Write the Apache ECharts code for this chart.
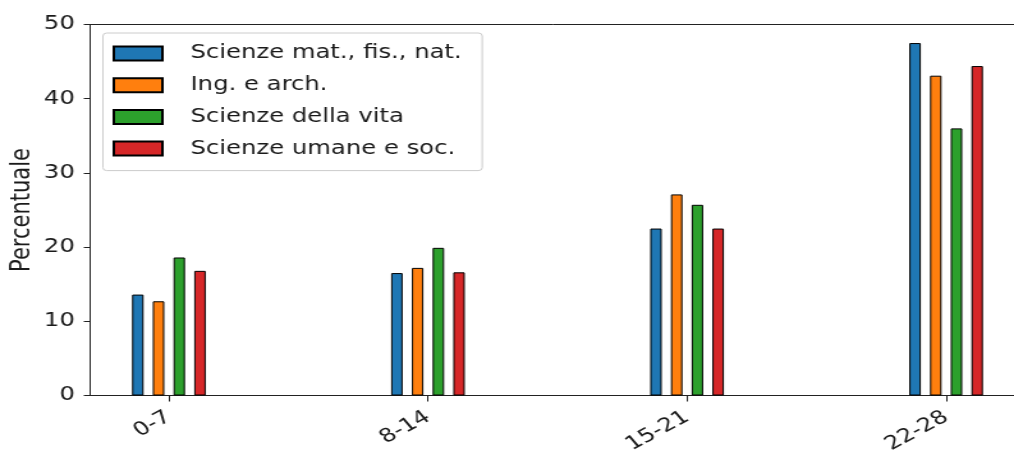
<!DOCTYPE html>
<html>
<head>
<meta charset="utf-8">
<script src="https://cdn.jsdelivr.net/npm/echarts@6/dist/echarts.min.js"></script>
<style>
  html, body { margin: 0; padding: 0; background: #fff; overflow: hidden; }
  /* the figure is laid out at a narrower width and stretched horizontally */
  #wrap { width: 1014px; height: 455px; overflow: hidden; }
  #chart { width: 793px; height: 455px; transform: scaleX(1.2787); transform-origin: 0 0; }
</style>
</head>
<body>
<div id="wrap"><div id="chart"></div></div>
<script>
// Age bands (days) on the x axis
const categories = ['0-7', '8-14', '15-21', '22-28'];

// Share of each subject area per band, in percent
const seriesNames = [
  'Scienze mat., fis., nat.',
  'Ing. e arch.',
  'Scienze della vita',
  'Scienze umane e soc.'
];
const matFisNat   = [13.6, 16.5, 22.5, 47.5];
const ingArch     = [12.7, 17.2, 27.1, 43.1];
const scienzeVita = [18.6, 19.9, 25.7, 36.0];
const umaneSoc    = [16.8, 16.6, 22.5, 44.4];

const yTicks = [0, 10, 20, 30, 40, 50];

const palette = ['#1f77b4', '#ff7f0e', '#2ca02c', '#d62728'];
const valueSets = [matFisNat, ingArch, scienzeVita, umaneSoc];
const font = 'DejaVu Sans';
const ink = '#1a1a1a';

const chart = echarts.init(document.getElementById('chart'), null, { renderer: 'canvas' });

const series = seriesNames.map((name, i) => ({
  name: name,
  type: 'bar',
  data: valueSets[i].map((v, k) => [k, v]),
  barWidth: 9,
  barGap: '80%',
  itemStyle: { color: palette[i], borderColor: '#000', borderWidth: 1 },
  emphasis: { disabled: true }
}));

chart.setOption({
  animation: false,
  backgroundColor: '#fff',
  grid: {
    left: 70.5, top: 24.5, width: 731, height: 371,
    outerBoundsMode: 'none',
    containLabel: false,
    show: true, borderColor: '#222', borderWidth: 1, backgroundColor: 'transparent'
  },
  legend: {
    left: 80.5, top: 33,
    orient: 'vertical',
    icon: 'rect',
    itemWidth: 38, itemHeight: 14,
    itemGap: 11.7,
    padding: [10.5, 16, 12, 7.5],
    backgroundColor: 'rgba(255,255,255,0.8)',
    borderColor: '#cccccc', borderWidth: 1, borderRadius: 3,
    textStyle: { fontFamily: font, fontSize: 19, color: ink, lineHeight: 20, padding: [0, 0, 0, 17] },
    data: seriesNames
  },
  xAxis: {
    type: 'value',
    min: -0.304, max: 3.304,
    splitLine: { show: false },
    axisLine: { show: true, onZero: false, lineStyle: { color: '#222', width: 1 } },
    axisTick: { show: true, length: 6, customValues: [0, 1, 2, 3], lineStyle: { color: '#222' } },
    axisLabel: {
      customValues: [0, 1, 2, 3],
      formatter: v => categories[Math.round(v)],
      rotate: 34, margin: 20,
      fontFamily: font, fontSize: 19, color: ink
    }
  },
  yAxis: {
    type: 'value',
    min: 0, max: 50, interval: 10,
    name: 'Percentuale',
    nameLocation: 'middle', nameRotate: 90, nameGap: 42,
    nameMoveOverlap: false,
    nameTextStyle: { fontFamily: font, fontSize: 21, color: ink },
    splitLine: { show: false },
    axisLine: { show: true, onZero: false, lineStyle: { color: '#222', width: 1 } },
    axisTick: { show: true, length: 5, lineStyle: { color: '#222' } },
    axisLabel: {
      margin: 12,
      formatter: v => (yTicks.includes(v) ? String(v) : ''),
      fontFamily: font, fontSize: 19, color: ink
    }
  },
  series: series
});
</script>
</body>
</html>
